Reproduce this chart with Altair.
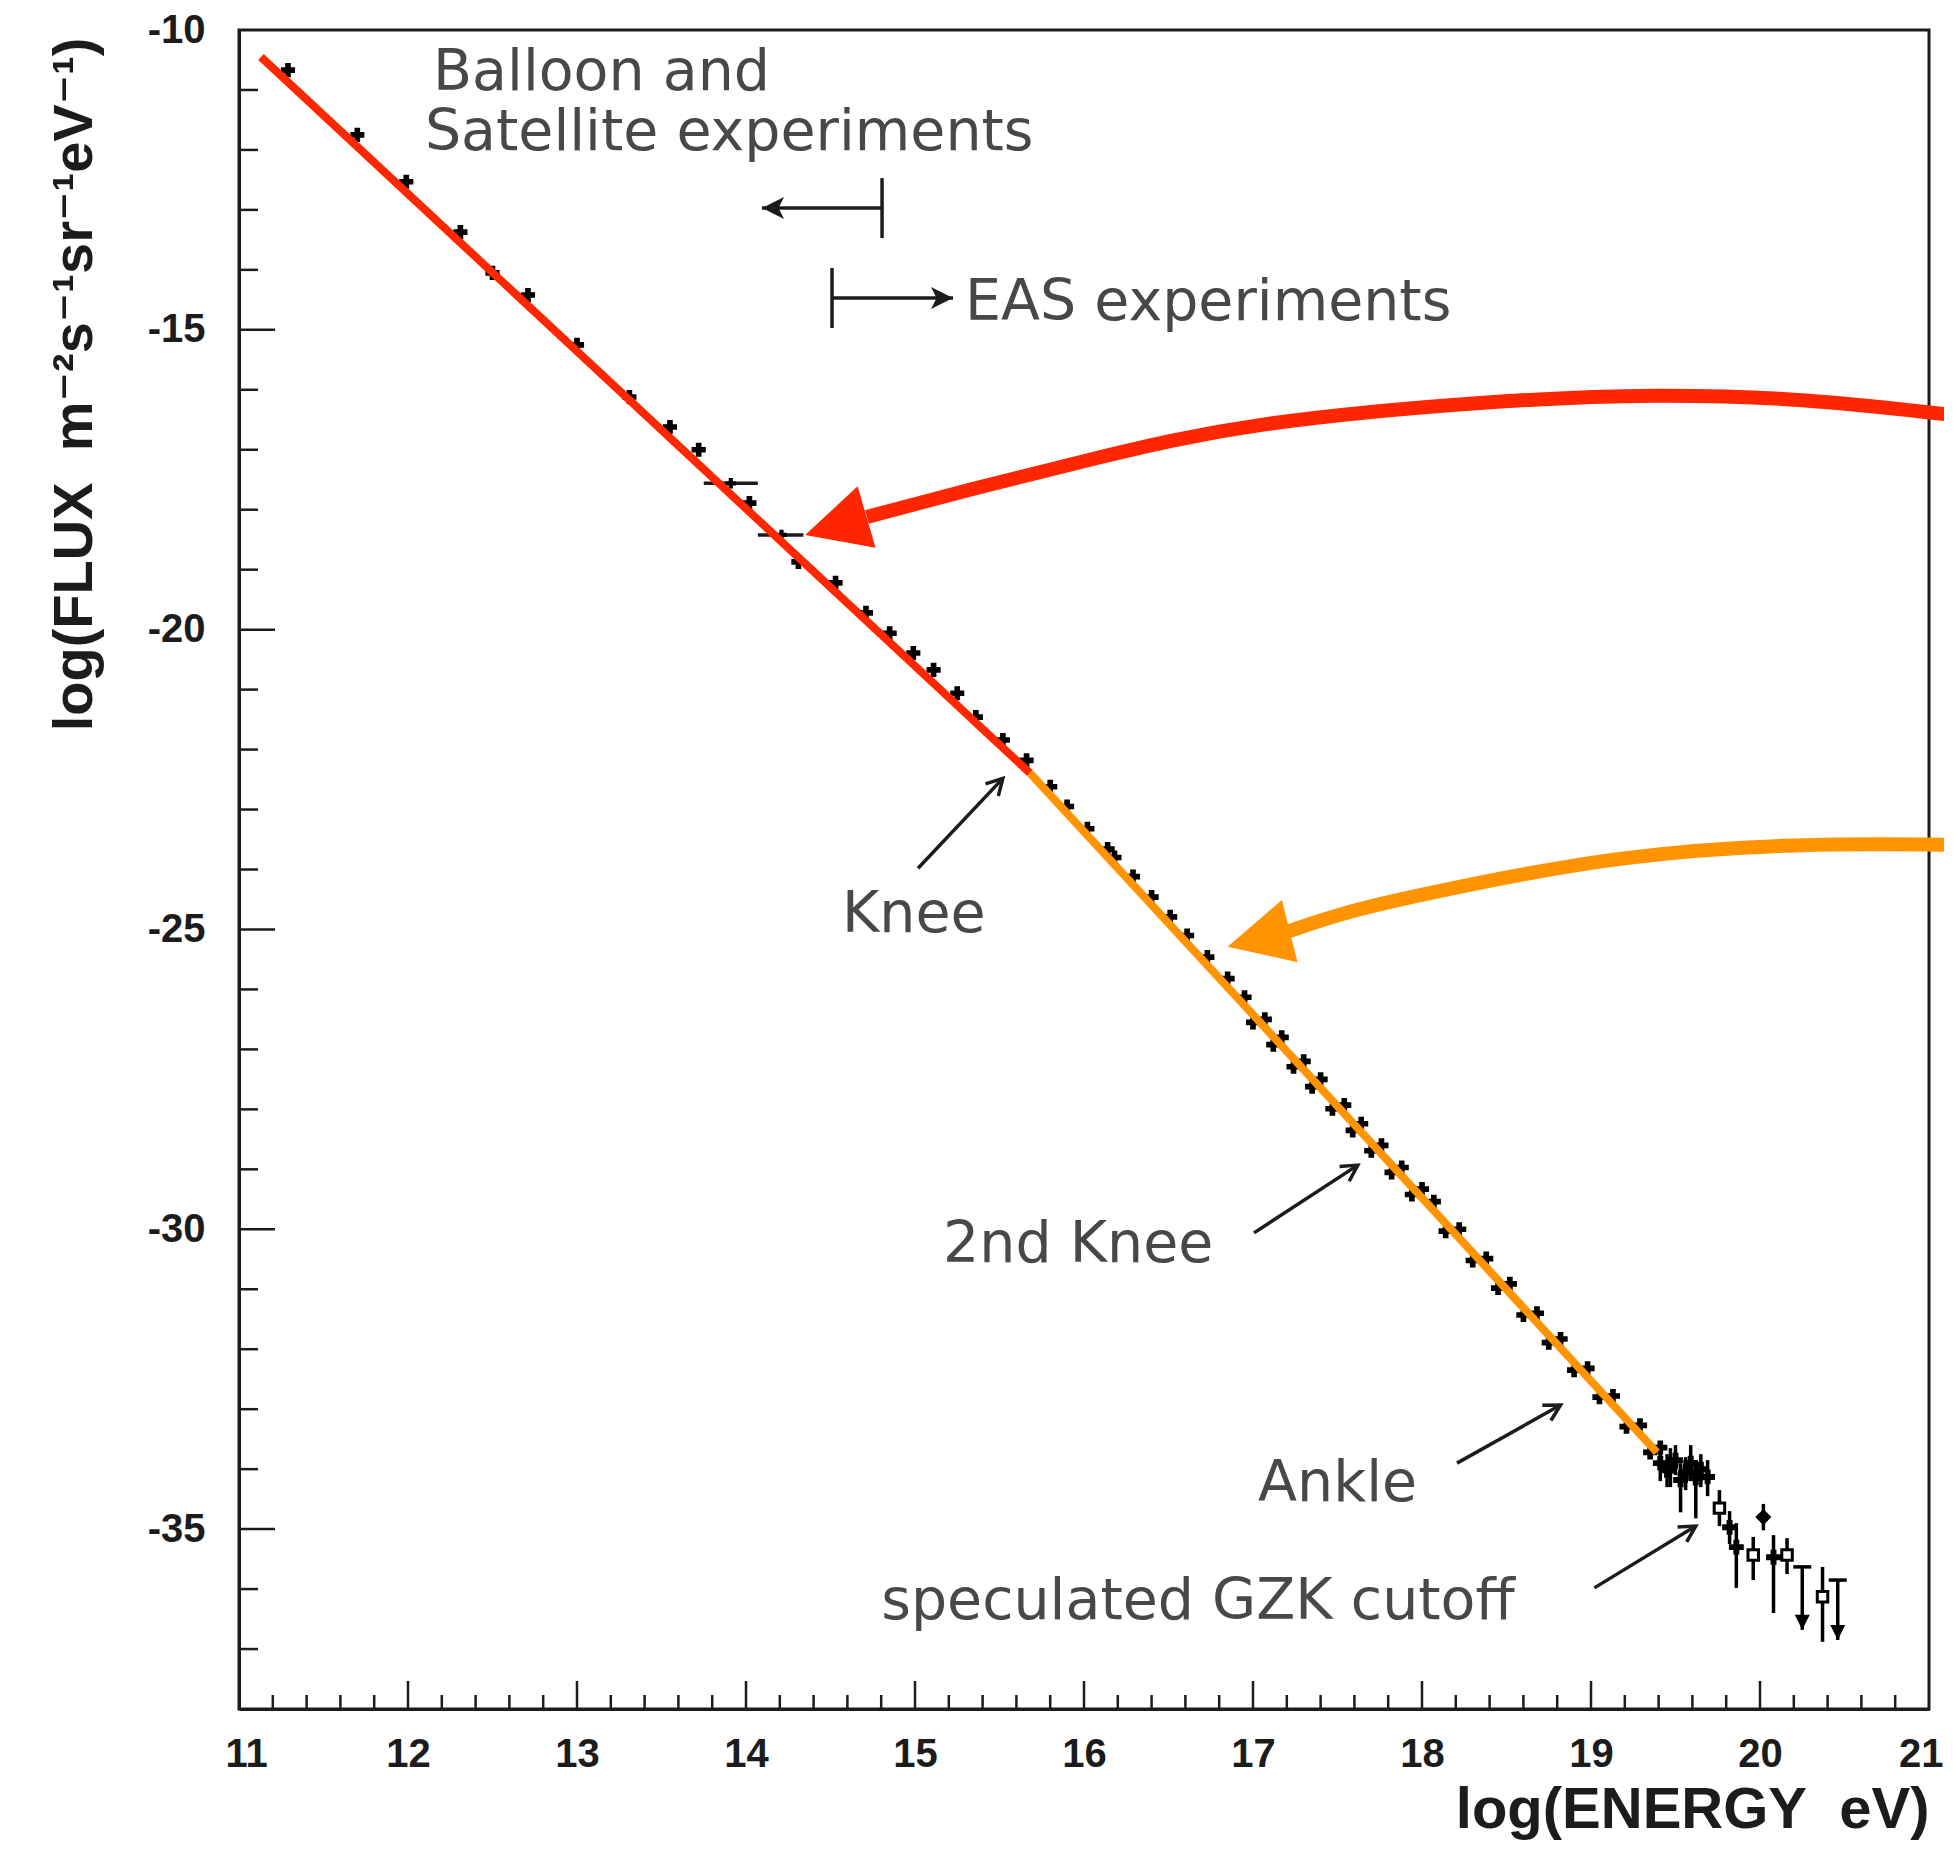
import math
import altair as alt
import pandas as pd

# ---------------- data ----------------
# measured spectrum points (log E [eV], log flux)
E_MAIN = [11.29, 11.70, 11.99, 12.31, 12.50, 12.71, 13.00, 13.31, 13.55, 13.72,
          14.02, 14.31, 14.53, 14.71, 14.85, 14.99, 15.11, 15.25, 15.36, 15.52,
          15.66, 15.80, 15.90, 16.02, 16.14, 16.18, 16.29, 16.40, 16.51, 16.61,
          16.73, 16.85, 16.95, 17.07, 17.17, 17.30, 17.40, 17.54, 17.64, 17.76,
          17.88, 18.00, 18.07, 18.22, 18.38, 18.52, 18.68, 18.82, 18.98, 19.13,
          19.29, 19.41]
F_MAIN = [-10.67, -11.75, -12.53, -13.37, -14.05, -14.42, -15.25, -16.12, -16.62, -17.00,
          -17.89, -18.87, -19.22, -19.72, -20.06, -20.39, -20.67, -21.06, -21.46, -21.84,
          -22.18, -22.62, -22.95, -23.32, -23.66, -23.80, -24.12, -24.46, -24.79, -25.10,
          -25.46, -25.82, -26.13, -26.50, -26.80, -27.20, -27.50, -27.93, -28.24, -28.60,
          -28.97, -29.33, -29.54, -30.00, -30.49, -30.91, -31.40, -31.83, -32.32, -32.78,
          -33.27, -33.64]
# second experiment overlapping in the dense band
E_BAND = [17.00, 17.12, 17.24, 17.35, 17.47, 17.59, 17.70, 17.82, 17.94, 18.14,
          18.30, 18.45, 18.60, 18.75, 18.90, 19.05, 19.21, 19.35]
F_BAND = [-26.55, -26.92, -27.29, -27.62, -27.99, -28.35, -28.69, -29.05, -29.42, -30.03,
          -30.52, -30.98, -31.43, -31.89, -32.35, -32.80, -33.29, -33.72]
# wide-bin points with horizontal error bars
E_HB = [13.91, 14.21]
F_HB = [-17.56, -18.42]
E_HB_LO = [13.75, 14.07]
E_HB_HI = [14.07, 14.34]
# highest-energy points with vertical error bars
E_TAIL = [19.41, 19.45, 19.47, 19.50, 19.53, 19.56, 19.59, 19.62, 19.65, 19.69, 19.76, 19.82,
          19.86, 19.96, 20.02, 20.08, 20.16, 20.37]
F_TAIL = [-33.90, -34.02, -33.95, -33.85, -34.18, -34.05, -33.90, -34.15, -34.00, -34.13,
          -34.65, -34.97, -35.30, -35.43, -34.80, -35.47, -35.43, -36.13]
F_TAIL_LO = [-34.20, -34.30, -34.30, -34.10, -34.72, -34.35, -34.20, -34.82, -34.30, -34.45,
             -34.95, -35.25, -35.98, -35.85, -35.02, -36.40, -35.75, -36.88]
F_TAIL_HI = [-33.60, -33.75, -33.65, -33.60, -33.90, -33.80, -33.60, -33.85, -33.75, -33.85,
             -34.35, -34.70, -34.90, -35.13, -34.58, -35.10, -35.15, -35.63]
TAIL_KIND = ["cross", "cross", "cross", "cross", "cross", "cross", "cross", "cross", "cross",
             "cross", "square", "cross", "cross", "square", "diamond", "cross", "square", "square"]
# upper limits
E_UL = [20.25, 20.46]
F_UL_TOP = [-35.63, -35.85]
F_UL_BOT = [-36.68, -36.85]

# power-law fit segments
E_RED = [11.13, 15.68]
F_RED = [-10.45, -22.39]
E_ORANGE = [15.68, 19.39]
F_ORANGE = [-22.39, -33.72]

# big curved call-out arrows (shaft control points, then tip)
E_RED_ARC = [21.14, 20.24, 19.39, 18.46, 16.95, 16.095, 15.308, 14.716]
F_RED_ARC = [-16.42, -16.14, -16.07, -16.17, -16.55, -17.12, -17.67, -18.12]
E_RED_TIP, F_RED_TIP = 14.35, -18.42
E_OR_ARC = [21.14, 20.24, 19.17, 18.17, 17.57, 17.20]
F_OR_ARC = [-23.59, -23.56, -23.76, -24.31, -24.68, -25.04]
E_OR_TIP, F_OR_TIP = 16.85, -25.29

# small pointer arrows (Knee, 2nd Knee, Ankle, GZK)
ARR_FROM_E = [15.018, 17.006, 18.207, 19.02]
ARR_FROM_F = [-23.98, -30.06, -33.90, -35.98]
ARR_TO_E = [15.52, 17.62, 18.82, 19.62]
ARR_TO_F = [-22.48, -28.93, -32.93, -34.95]

# range brackets: balloon/satellite (points left), EAS (points right)
BR_BAR_E = [14.805, 14.509]
BR_BAR_F_TOP = [-12.47, -13.97]
BR_BAR_F_BOT = [-13.47, -14.97]
BR_LINE_F = [-12.97, -14.47]
BR_TIP_E = [14.095, 15.225]

# text annotations
LABELS = ["Balloon and", "Satellite experiments", "EAS experiments", "Knee",
          "2nd Knee", "Ankle", "speculated GZK cutoff"]
LAB_E = [12.148, 12.10, 15.296, 14.568, 15.166, 17.03, 14.80]
LAB_F = [-11.0, -12.0, -14.84, -25.04, -30.55, -34.53, -36.50]

# axes
X_DOM = [11, 21]
Y_DOM = [-38, -10]
X_LABELS = list(range(11, 22))
Y_LABELS = [-10, -15, -20, -25, -30, -35]
X_MAJOR = list(range(12, 21))
X_MINOR = [round(11 + i * 0.2, 1) for i in range(1, 50) if i % 5 != 0]
Y_MAJOR = [-35, -30, -25, -20, -15]
Y_MINOR = [v for v in range(-37, -10) if v % 5 != 0]

# ---------------- styling ----------------
W, H = 1690, 1679
KX = W / (X_DOM[1] - X_DOM[0])
KY = H / (Y_DOM[1] - Y_DOM[0])
FONT_AX = "Liberation Sans, Arial, Helvetica, DejaVu Sans, sans-serif"
FONT_ANN = "DejaVu Sans, sans-serif"
INK = "#1c1c1c"
GREY = "#484848"
RED = "#ff2600"
ORANGE = "#ff9300"

xscale = alt.Scale(domain=X_DOM, nice=False, zero=False)
yscale = alt.Scale(domain=Y_DOM, nice=False, zero=False)
xaxis = alt.Axis(values=X_LABELS, labelExpr="'' + datum.value", ticks=False, tickSize=0,
                 grid=False, labelPadding=57, labelBaseline="alphabetic", labelFontSize=40,
                 labelFont=FONT_AX, labelFontWeight="bold", labelColor=INK,
                 labelFlush=True, labelFlushOffset=14,
                 labelOverlap=False, domainColor=INK, domainWidth=3,
                 title="log(ENERGY\u00a0\u00a0eV)", titleFont=FONT_AX, titleFontWeight="bold",
                 titleFontSize=58, titleColor=INK, titleAnchor="end", titleAlign="right",
                 titleBaseline="alphabetic", titleX=W, titleY=118)
yaxis = alt.Axis(values=Y_LABELS, labelExpr="'' + datum.value", ticks=False, tickSize=0,
                 grid=False, labelPadding=34, labelBaseline="middle", labelFontSize=40,
                 labelFont=FONT_AX, labelFontWeight="bold", labelColor=INK, labelFlush=False,
                 labelOverlap=False, domainColor=INK, domainWidth=3,
                 title="log(FLUX\u00a0\u00a0m\u207b\u00b2s\u207b\u00b9sr\u207b\u00b9eV\u207b\u00b9)",
                 titleFont=FONT_AX, titleFontWeight="bold", titleFontSize=56, titleColor=INK,
                 titleAngle=270, titleAlign="right", titleBaseline="alphabetic",
                 titleX=-148, titleY=7)


def X(field="e"):
    return alt.X(f"{field}:Q", scale=xscale, axis=xaxis)


def Y(field="f"):
    return alt.Y(f"{field}:Q", scale=yscale, axis=yaxis)


def heading(dx, dy):
    return math.degrees(math.atan2(dx * KX, dy * KY)) % 360


layers = []

# inward ticks
layers.append(alt.Chart(pd.DataFrame({"e": X_MINOR})).mark_rule(color=INK, strokeWidth=2.5)
              .encode(x=X(), y=alt.value(H), y2=alt.value(H - 14)))
layers.append(alt.Chart(pd.DataFrame({"e": X_MAJOR})).mark_rule(color=INK, strokeWidth=2.5)
              .encode(x=X(), y=alt.value(H), y2=alt.value(H - 28)))
layers.append(alt.Chart(pd.DataFrame({"f": Y_MINOR})).mark_rule(color=INK, strokeWidth=2.5)
              .encode(y=Y(), x=alt.value(0), x2=alt.value(19)))
layers.append(alt.Chart(pd.DataFrame({"f": Y_MAJOR})).mark_rule(color=INK, strokeWidth=2.5)
              .encode(y=Y(), x=alt.value(0), x2=alt.value(36)))

# data points
df_pts = pd.DataFrame({"e": E_MAIN + E_BAND, "f": F_MAIN + F_BAND})
layers.append(alt.Chart(df_pts).mark_point(shape="cross", filled=True, color="#000", size=200, opacity=1)
              .encode(x=X(), y=Y()))
df_hb = pd.DataFrame({"e": E_HB_LO, "e2": E_HB_HI, "f": F_HB})
layers.append(alt.Chart(df_hb).mark_rule(color=INK, strokeWidth=3.5)
              .encode(x=X(), x2="e2:Q", y=Y()))
df_hbp = pd.DataFrame({"e": E_HB, "f": F_HB})
layers.append(alt.Chart(df_hbp).mark_point(shape="cross", filled=True, color="#000", size=110, opacity=1)
              .encode(x=X(), y=Y()))

df_tail = pd.DataFrame({"e": E_TAIL, "f": F_TAIL, "lo": F_TAIL_LO, "hi": F_TAIL_HI, "k": TAIL_KIND})
layers.append(alt.Chart(df_tail).mark_rule(color="#000", strokeWidth=3.5)
              .encode(x=X(), y=alt.Y("lo:Q", scale=yscale, axis=yaxis), y2="hi:Q"))
layers.append(alt.Chart(df_tail).transform_filter("datum.k == 'cross'")
              .mark_point(shape="cross", filled=True, color="#000", size=220, opacity=1)
              .encode(x=X(), y=Y()))
layers.append(alt.Chart(df_tail).transform_filter("datum.k == 'diamond'")
              .mark_point(shape="diamond", filled=True, color="#000", size=260, opacity=1)
              .encode(x=X(), y=Y()))
layers.append(alt.Chart(df_tail).transform_filter("datum.k == 'square'")
              .mark_point(shape="square", filled=True, fill="#ffffff", stroke="#000", strokeWidth=3,
                          size=110, opacity=1)
              .encode(x=X(), y=Y()))

df_ul = pd.DataFrame({"e": E_UL, "top": F_UL_TOP, "bot": F_UL_BOT})
layers.append(alt.Chart(df_ul).mark_rule(color="#000", strokeWidth=3.5)
              .encode(x=X(), y=alt.Y("top:Q", scale=yscale, axis=yaxis), y2="bot:Q"))
layers.append(alt.Chart(df_ul).mark_tick(orient="horizontal", size=18, thickness=3.5, color="#000", opacity=1)
              .encode(x=X(), y=alt.Y("top:Q", scale=yscale, axis=yaxis)))
layers.append(alt.Chart(df_ul).mark_point(shape="M0,0L-0.5,-1L0.5,-1Z", filled=True, color="#000",
                                           size=900, opacity=1)
              .encode(x=X(), y=alt.Y("bot:Q", scale=yscale, axis=yaxis)))

# power-law fit lines
df_red = pd.DataFrame({"e": E_RED, "f": F_RED})
layers.append(alt.Chart(df_red).mark_line(color=RED, strokeWidth=8).encode(x=X(), y=Y()))
df_or = pd.DataFrame({"e": E_ORANGE, "f": F_ORANGE})
layers.append(alt.Chart(df_or).mark_line(color=ORANGE, strokeWidth=8).encode(x=X(), y=Y()))

# small pointer arrows
df_arr = pd.DataFrame({"e": ARR_FROM_E, "f": ARR_FROM_F, "e2": ARR_TO_E, "f2": ARR_TO_F})
df_arr["ang"] = [heading(b - a, d - c) for a, b, c, d in zip(ARR_FROM_E, ARR_TO_E, ARR_FROM_F, ARR_TO_F)]
layers.append(alt.Chart(df_arr).mark_rule(color=INK, strokeWidth=3.5)
              .encode(x=X(), y=Y(), x2="e2:Q", y2="f2:Q"))
layers.append(alt.Chart(df_arr).mark_point(shape="M-0.55,1L0,0L0.55,1", filled=False, stroke=INK,
                                            strokeWidth=3.5, size=1024, opacity=1)
              .encode(x=X("e2"), y=Y("f2"), angle=alt.Angle("ang:Q", scale=None)))

# brackets
df_br = pd.DataFrame({"e": BR_BAR_E, "top": BR_BAR_F_TOP, "bot": BR_BAR_F_BOT,
                      "f": BR_LINE_F, "tip": BR_TIP_E})
df_br["ang"] = [heading(t - b, 0.0) for b, t in zip(BR_BAR_E, BR_TIP_E)]
layers.append(alt.Chart(df_br).mark_rule(color=INK, strokeWidth=3.5)
              .encode(x=X(), y=alt.Y("top:Q", scale=yscale, axis=yaxis), y2="bot:Q"))
layers.append(alt.Chart(df_br).mark_rule(color=INK, strokeWidth=3.5)
              .encode(x=X(), x2="tip:Q", y=Y()))
layers.append(alt.Chart(df_br).mark_point(shape="M0,0L-0.5,1L0,0.75L0.5,1Z", filled=True, color=INK,
                                           size=1936, opacity=1)
              .encode(x=X("tip"), y=Y(), angle=alt.Angle("ang:Q", scale=None)))

# text annotations
df_lab = pd.DataFrame({"e": LAB_E, "f": LAB_F, "t": LABELS})
layers.append(alt.Chart(df_lab).mark_text(align="left", baseline="alphabetic", font=FONT_ANN,
                                          fontSize=57, color=GREY)
              .encode(x=X(), y=Y(), text="t:N"))

# big call-out arrows
df_ra = pd.DataFrame({"e": E_RED_ARC, "f": F_RED_ARC, "o": list(range(len(E_RED_ARC)))})
layers.append(alt.Chart(df_ra).mark_line(color=RED, strokeWidth=14, interpolate="basis", strokeCap="butt")
              .encode(x=X(), y=Y(), order="o:Q"))
df_oa = pd.DataFrame({"e": E_OR_ARC, "f": F_OR_ARC, "o": list(range(len(E_OR_ARC)))})
layers.append(alt.Chart(df_oa).mark_line(color=ORANGE, strokeWidth=14, interpolate="basis", strokeCap="butt")
              .encode(x=X(), y=Y(), order="o:Q"))
df_heads = pd.DataFrame({
    "e": [E_RED_TIP, E_OR_TIP], "f": [F_RED_TIP, F_OR_TIP], "c": [RED, ORANGE],
    "ang": [heading(E_RED_TIP - E_RED_ARC[-1], F_RED_TIP - F_RED_ARC[-1]),
            heading(E_OR_TIP - E_OR_ARC[-1], F_OR_TIP - F_OR_ARC[-1])]})
layers.append(alt.Chart(df_heads).mark_point(shape="M0,0L-0.5,1L0.5,1Z", filled=True, size=16384, opacity=1)
              .encode(x=X(), y=Y(), angle=alt.Angle("ang:Q", scale=None),
                      color=alt.Color("c:N", scale=None)))

chart = (alt.layer(*layers)
         .properties(width=W, height=H,
                     autosize=alt.AutoSizeParams(type="none"),
                     padding={"left": 231, "top": 22, "right": 15, "bottom": 137},
                     background="#ffffff")
         .configure_view(stroke=INK, strokeWidth=3))

chart.save("out.html", embed_options={"renderer": "svg", "actions": False})
